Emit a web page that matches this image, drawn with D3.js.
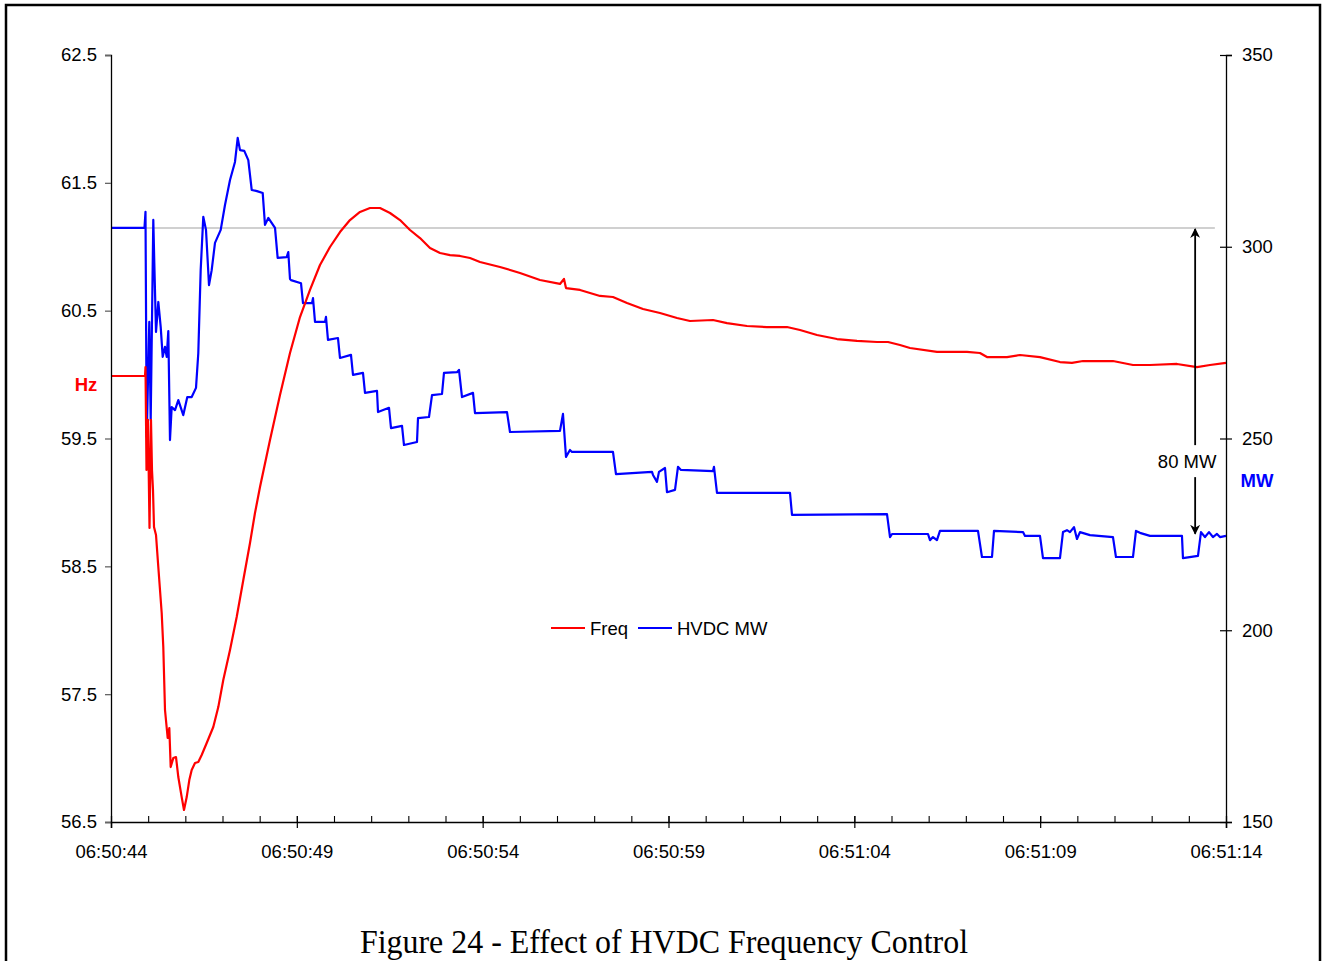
<!DOCTYPE html>
<html>
<head>
<meta charset="utf-8">
<script src="https://cdn.jsdelivr.net/npm/d3@7"></script>
<style>
  html, body { margin: 0; padding: 0; background: #fff; }
  svg { display: block; }
  text { font-family: "Liberation Sans", Arial, sans-serif; }
</style>
</head>
<body>
<svg id="chart" width="1322" height="961"></svg>
<script>
// ---------- DATA (time in seconds after 06:50:44) ----------
const startTime = [6, 50, 44];
const durationSec = 30;
const xTickLabels = ["06:50:44", "06:50:49", "06:50:54", "06:50:59", "06:51:04", "06:51:09", "06:51:14"];
const leftTicks = [56.5, 57.5, 58.5, 59.5, 60.5, 61.5, 62.5];
const rightTicks = [150, 200, 250, 300, 350];
const leftDomain = [56.5, 62.5];
const rightDomain = [150, 350];

const freqData = [
  [0, 59.989], [0.915, 59.989], [0.928, 60.059], [0.955, 59.254], [0.995, 59.645],
  [1.036, 58.800], [1.076, 59.645], [1.103, 59.254], [1.130, 59.097], [1.157, 58.808],
  [1.211, 58.745], [1.265, 58.526], [1.364, 58.135], [1.407, 57.869], [1.453, 57.376],
  [1.525, 57.157], [1.569, 57.235], [1.606, 56.930], [1.676, 57.000], [1.749, 57.008],
  [1.811, 56.852], [1.902, 56.695], [1.964, 56.594], [2.037, 56.695], [2.107, 56.828],
  [2.171, 56.907], [2.260, 56.961], [2.349, 56.969], [2.440, 57.024], [2.575, 57.118],
  [2.752, 57.243], [2.887, 57.399], [3.021, 57.611], [3.202, 57.845], [3.382, 58.104],
  [3.560, 58.393], [3.740, 58.682], [3.874, 58.917], [4.009, 59.120], [4.278, 59.488],
  [4.547, 59.840], [4.816, 60.169], [5.085, 60.450], [5.354, 60.662], [5.623, 60.857],
  [5.892, 60.998], [6.161, 61.115], [6.430, 61.209], [6.699, 61.272], [6.968, 61.303],
  [7.238, 61.303], [7.507, 61.264], [7.776, 61.209], [8.045, 61.131], [8.314, 61.068],
  [8.583, 60.990], [8.852, 60.951], [9.121, 60.935], [9.390, 60.928], [9.659, 60.912],
  [9.928, 60.881], [10.466, 60.842], [11.004, 60.795], [11.542, 60.740], [12.080, 60.709],
  [12.188, 60.748], [12.242, 60.677], [12.619, 60.662], [13.157, 60.615], [13.506, 60.607],
  [13.883, 60.560], [14.314, 60.513], [14.771, 60.482], [15.229, 60.443], [15.578, 60.419],
  [16.197, 60.427], [16.574, 60.403], [17.112, 60.380], [17.650, 60.372], [18.188, 60.372],
  [18.538, 60.349], [18.995, 60.310], [19.533, 60.278], [20.071, 60.263], [20.610, 60.255],
  [20.906, 60.255], [21.228, 60.231], [21.497, 60.208], [22.223, 60.177], [23.031, 60.177],
  [23.380, 60.169], [23.569, 60.137], [24.107, 60.137], [24.457, 60.153], [24.995, 60.137],
  [25.533, 60.098], [25.856, 60.091], [26.152, 60.106], [26.959, 60.106], [27.497, 60.075],
  [27.954, 60.075], [28.681, 60.083], [29.219, 60.059], [29.569, 60.075], [30.0, 60.091]
];

const hvdcData = [
  [0, 304.9], [0.901, 304.9], [0.928, 309.1], [0.961, 250.4], [1.030, 280.4],
  [1.068, 254.8], [1.138, 307.0], [1.165, 295.8], [1.211, 277.8], [1.273, 285.6],
  [1.337, 279.1], [1.391, 271.3], [1.453, 273.9], [1.499, 271.3], [1.542, 278.0],
  [1.587, 249.6], [1.633, 258.2], [1.722, 257.4], [1.811, 260.0], [1.945, 256.1],
  [2.053, 260.8], [2.171, 260.8], [2.287, 263.2], [2.349, 272.3], [2.413, 293.9],
  [2.483, 307.8], [2.556, 304.4], [2.637, 290.0], [2.709, 293.9], [2.798, 301.0],
  [2.952, 304.4], [3.067, 310.9], [3.202, 317.4], [3.336, 322.1], [3.409, 328.4],
  [3.471, 325.2], [3.586, 325.0], [3.694, 322.6], [3.786, 314.8], [3.928, 314.5],
  [4.082, 314.0], [4.143, 305.7], [4.232, 307.5], [4.413, 304.9], [4.484, 297.1],
  [4.727, 297.3], [4.770, 298.6], [4.816, 291.6], [4.843, 291.3], [5.112, 290.5],
  [5.166, 285.3], [5.408, 285.3], [5.435, 286.6], [5.489, 280.4], [5.758, 280.4],
  [5.784, 281.7], [5.838, 275.7], [6.107, 276.2], [6.161, 271.0], [6.457, 271.8],
  [6.511, 266.6], [6.780, 267.1], [6.834, 261.9], [7.157, 262.4], [7.184, 256.9],
  [7.480, 258.0], [7.534, 252.7], [7.830, 253.3], [7.883, 248.3], [8.233, 249.1],
  [8.260, 255.3], [8.556, 255.6], [8.637, 261.3], [8.906, 261.6], [8.959, 267.1],
  [9.309, 267.3], [9.363, 267.9], [9.444, 260.8], [9.740, 261.9], [9.794, 256.6],
  [10.655, 256.9], [10.735, 251.7], [12.080, 252.0], [12.161, 256.4], [12.242, 245.2],
  [12.349, 247.0], [12.403, 246.5], [13.506, 246.5], [13.587, 240.7], [14.556, 241.3],
  [14.583, 240.5], [14.690, 238.7], [14.744, 241.3], [14.906, 242.3], [14.959, 236.0],
  [15.175, 236.6], [15.255, 242.6], [15.336, 241.8], [16.197, 241.5], [16.224, 242.6],
  [16.305, 235.8], [18.269, 235.8], [18.323, 230.1], [20.879, 230.3], [20.960, 224.3],
  [21.014, 225.1], [21.982, 225.1], [22.036, 223.5], [22.116, 224.3], [22.223, 223.5],
  [22.304, 225.9], [23.327, 225.9], [23.434, 219.1], [23.704, 219.1], [23.758, 225.9],
  [24.538, 225.6], [24.592, 224.6], [24.995, 224.6], [25.076, 218.8], [25.533, 218.8],
  [25.614, 225.6], [25.721, 226.1], [25.802, 225.6], [25.910, 226.9], [25.990, 223.8],
  [26.071, 225.6], [26.340, 224.8], [26.959, 224.3], [27.039, 219.1], [27.497, 219.1],
  [27.578, 225.9], [27.685, 225.4], [27.954, 224.6], [28.815, 224.6], [28.842, 218.8],
  [29.246, 219.4], [29.327, 225.6], [29.434, 224.3], [29.542, 225.6], [29.649, 224.3],
  [29.757, 225.1], [29.837, 224.3], [30.0, 224.6]
];

const refLineMW = 304.9;          // initial HVDC level (grey reference line)
const refLineEndSec = 29.7;
const arrowSec = 29.17;
const arrowFromMW = 304.9;
const arrowToMW = 224.9;
const arrowLabelMW = 244.1;       // vertical position of the "80 MW" label
const arrowLabel = "80 MW";
const seriesNames = ["Freq", "HVDC MW"];
const seriesColors = ["#ff0000", "#0000ff"];
const titleText = "Figure 24 - Effect of HVDC Frequency Control";

// ---------- LAYOUT ----------
const svg = d3.select("#chart");
const L = 111, R = 1226, T = 55, B = 822;

const t0 = new Date(2000, 0, 1, startTime[0], startTime[1], startTime[2]);
const toDate = s => new Date(t0.getTime() + s * 1000);

const x = d3.scaleTime().domain([t0, toDate(durationSec)]).range([L, R]);
const yL = d3.scaleLinear().domain(leftDomain).range([B, T]);
const yR = d3.scaleLinear().domain(rightDomain).range([B, T]);

// outer frame
svg.append("rect").attr("x", 6).attr("y", 5).attr("width", 1314).attr("height", 1000)
  .attr("fill", "none").attr("stroke", "#000").attr("stroke-width", 2.5);

// grey reference line
svg.append("line")
  .attr("x1", x(toDate(0))).attr("x2", x(toDate(refLineEndSec)))
  .attr("y1", yR(refLineMW)).attr("y2", yR(refLineMW))
  .attr("stroke", "#c0c0c0").attr("stroke-width", 1.5);

// series
const lineF = d3.line().x(d => x(toDate(d[0]))).y(d => yL(d[1]));
const lineM = d3.line().x(d => x(toDate(d[0]))).y(d => yR(d[1]));

svg.append("path").datum(hvdcData).attr("d", lineM)
  .attr("fill", "none").attr("stroke", seriesColors[1]).attr("stroke-width", 2.2)
  .attr("stroke-linejoin", "round");
svg.append("path").datum(freqData).attr("d", lineF)
  .attr("fill", "none").attr("stroke", seriesColors[0]).attr("stroke-width", 2.2)
  .attr("stroke-linejoin", "round");

// ---------- AXES ----------
const fontSize = "18.5px";
const majorSecs = d3.range(0, durationSec + 1, 5);
const minorSecs = d3.range(0, durationSec + 1, 1);

// left axis
const gL = svg.append("g").attr("transform", `translate(${L},0)`)
  .call(d3.axisLeft(yL).tickValues(leftTicks).tickFormat(d3.format(".1f")).tickSize(6).tickPadding(8));
gL.select(".domain").attr("stroke", "#000").attr("stroke-width", 1.3);
gL.selectAll(".tick line").attr("stroke", "#666").attr("stroke-width", 1.3);
gL.selectAll("text").style("font-size", fontSize).attr("fill", "#000");

// right axis (crossing ticks)
const gR = svg.append("g").attr("transform", `translate(${R},0)`)
  .call(d3.axisRight(yR).tickValues(rightTicks).tickSize(6).tickPadding(10));
gR.select(".domain").attr("stroke", "#000").attr("stroke-width", 1.3);
gR.selectAll(".tick line").attr("stroke", "#000").attr("stroke-width", 1.2).attr("x1", -6);
gR.selectAll("text").style("font-size", fontSize).attr("fill", "#000");

// bottom axis: minor ticks (upward) + major ticks crossing
const gBm = svg.append("g").attr("transform", `translate(0,${B})`)
  .call(d3.axisBottom(x).tickValues(minorSecs.map(toDate)).tickSize(-6).tickFormat(""));
gBm.select(".domain").remove();
gBm.selectAll(".tick line").attr("stroke", "#000").attr("stroke-width", 1.1);

const gB = svg.append("g").attr("transform", `translate(0,${B})`)
  .call(d3.axisBottom(x).tickValues(majorSecs.map(toDate))
    .tickFormat((d, i) => xTickLabels[i]).tickSize(6).tickPadding(17));
gB.select(".domain").attr("stroke", "#000").attr("stroke-width", 1.5);
gB.selectAll(".tick line").attr("stroke", "#000").attr("stroke-width", 1.2).attr("y1", -6);
gB.selectAll("text").style("font-size", fontSize).attr("fill", "#000");

// axis unit labels
svg.append("text").attr("x", 86).attr("y", 391).attr("text-anchor", "middle")
  .style("font-size", fontSize).style("font-weight", "bold").attr("fill", "#ff0000").text("Hz");
svg.append("text").attr("x", 1257).attr("y", 487).attr("text-anchor", "middle")
  .style("font-size", fontSize).style("font-weight", "bold").attr("fill", "#0000ff").text("MW");

// ---------- ANNOTATION ARROW ----------
const defs = svg.append("defs");
defs.append("marker").attr("id", "ah").attr("viewBox", "0 0 10 10")
  .attr("refX", 9).attr("refY", 5).attr("markerWidth", 10).attr("markerHeight", 10)
  .attr("markerUnits", "userSpaceOnUse").attr("orient", "auto-start-reverse")
  .append("path").attr("d", "M0,0 L10,5 L0,10 L3,5 Z").attr("fill", "#000");

const ax = x(toDate(arrowSec));
svg.append("line")
  .attr("x1", ax).attr("x2", ax)
  .attr("y1", yR(arrowFromMW) + 1).attr("y2", yR(arrowToMW) - 1)
  .attr("stroke", "#000").attr("stroke-width", 1.8)
  .attr("marker-start", "url(#ah)").attr("marker-end", "url(#ah)");
const labY = yR(arrowLabelMW);
svg.append("rect").attr("x", ax - 40).attr("y", labY - 16).attr("width", 64).attr("height", 32).attr("fill", "#fff");
svg.append("text").attr("x", ax - 8).attr("y", labY + 7).attr("text-anchor", "middle")
  .style("font-size", fontSize).attr("fill", "#000").text(arrowLabel);

// ---------- LEGEND ----------
const legend = svg.append("g").attr("transform", "translate(551,628)");
const legX = [0, 87];
seriesNames.forEach((name, i) => {
  const g = legend.append("g").attr("transform", `translate(${legX[i]},0)`);
  g.append("line").attr("x1", 0).attr("x2", 34).attr("y1", 0).attr("y2", 0)
    .attr("stroke", seriesColors[i]).attr("stroke-width", 2);
  g.append("text").attr("x", 39).attr("y", 7).style("font-size", fontSize).attr("fill", "#000").text(name);
});

// ---------- TITLE ----------
svg.append("text").attr("x", 664).attr("y", 953).attr("text-anchor", "middle")
  .style("font-family", "'Liberation Serif', 'Times New Roman', serif")
  .style("font-size", "34px").attr("fill", "#000")
  .attr("textLength", 608).attr("lengthAdjust", "spacingAndGlyphs")
  .text(titleText);
</script>
</body>
</html>
